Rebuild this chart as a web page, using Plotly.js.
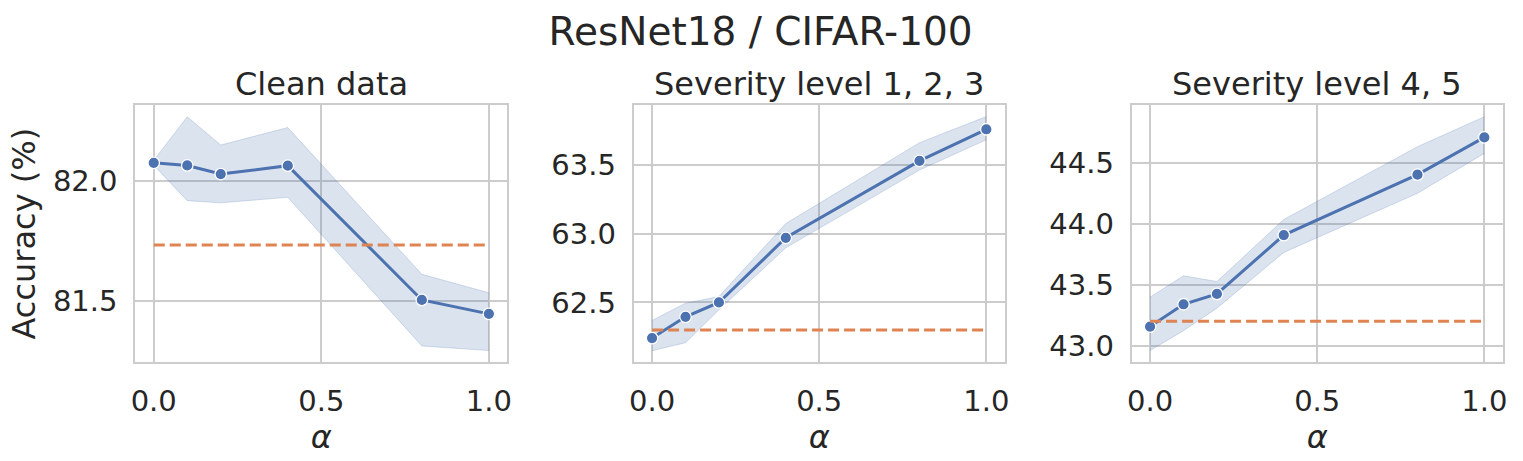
<!DOCTYPE html>
<html>
<head>
<meta charset="utf-8">
<script src="https://cdn.plot.ly/plotly-3.0.1.min.js"></script>
<style>html,body{margin:0;padding:0;background:#fff;}#chart{width:1523px;height:461px;}</style>
</head>
<body>
<div id="chart"></div>
<script>
// ---- data ----
const alphas = [0, 0.1, 0.2, 0.4, 0.8, 1.0];
const baselineX = [0, 1];

const panelTitles = ["Clean data", "Severity level 1, 2, 3", "Severity level 4, 5"];
const mainTitle = "ResNet18 / CIFAR-100";
const yLabel = "Accuracy (%)";
const xLabel = "<i>α</i>";

const cleanMean  = [82.075, 82.064, 82.028, 82.063, 81.503, 81.445];
const cleanUpper = [82.085, 82.267, 82.149, 82.222, 81.610, 81.533];
const cleanLower = [82.065, 81.917, 81.908, 81.931, 81.311, 81.292];
const cleanBaseline = 81.732;

const sev123Mean  = [62.242, 62.396, 62.500, 62.969, 63.527, 63.756];
const sev123Upper = [62.370, 62.495, 62.543, 63.072, 63.659, 63.848];
const sev123Lower = [62.150, 62.208, 62.447, 62.896, 63.460, 63.680];
const sev123Baseline = 62.300;

const sev45Mean  = [43.158, 43.341, 43.426, 43.907, 44.402, 44.707];
const sev45Upper = [43.399, 43.574, 43.527, 44.035, 44.631, 44.876];
const sev45Lower = [42.962, 43.125, 43.309, 43.765, 44.249, 44.576];
const sev45Baseline = 43.202;

const xTicks = [0, 0.5, 1.0];
const yRanges = [[81.243, 82.316], [62.066, 63.932], [42.866, 44.972]];

// ---- styling ----
const BLUE = "#4c72b0";
const ORANGE = "#dd8452";
const TXT = "#262626";
const GRID = "#cccccc";
const FONT = "DejaVu Sans, Liberation Sans, sans-serif";
const W = 1523, H = 461;

const panels = [
  {mean: cleanMean, up: cleanUpper, lo: cleanLower, base: cleanBaseline},
  {mean: sev123Mean, up: sev123Upper, lo: sev123Lower, base: sev123Baseline},
  {mean: sev45Mean, up: sev45Upper, lo: sev45Lower, base: sev45Baseline}
];

const xPix = [[135.3, 507.3], [633.7, 1004.7], [1131.7, 1502.7]];
const yTop = 105, yBot = 362.3;
const yDom = [(H - yBot) / H, (H - yTop) / H];

const traces = [];
const layout = {
  width: W, height: H,
  margin: {l: 0, r: 0, t: 0, b: 0},
  paper_bgcolor: "#ffffff",
  plot_bgcolor: "#ffffff",
  showlegend: false,
  font: {family: FONT, color: TXT, size: 29},
  title: {text: mainTitle, font: {family: FONT, size: 39, color: TXT},
          x: 0.4994, xanchor: "center", y: 1 - 31 / H, yanchor: "middle", xref: "paper", yref: "paper"},
  annotations: []
};

panels.forEach((p, i) => {
  const xa = "x" + (i === 0 ? "" : i + 1);
  const ya = "y" + (i === 0 ? "" : i + 1);
  traces.push({x: alphas, y: p.up, xaxis: xa, yaxis: ya, type: "scatter", mode: "lines",
    line: {color: "rgba(76,114,176,0.22)", width: 1}, hoverinfo: "skip"});
  traces.push({x: alphas, y: p.lo, xaxis: xa, yaxis: ya, type: "scatter", mode: "lines",
    fill: "tonexty", fillcolor: "rgba(76,114,176,0.2)",
    line: {color: "rgba(76,114,176,0.22)", width: 1}, hoverinfo: "skip"});
  traces.push({x: alphas, y: p.mean, xaxis: xa, yaxis: ya, type: "scatter", mode: "lines+markers",
    line: {color: BLUE, width: 3},
    marker: {color: BLUE, size: 11.5, line: {color: "#ffffff", width: 1.3}}});
  traces.push({x: baselineX, y: [p.base, p.base], xaxis: xa, yaxis: ya, type: "scatter", mode: "lines",
    line: {color: ORANGE, width: 3, dash: "11px,5px"}});

  const axKey = "xaxis" + (i === 0 ? "" : i + 1);
  const ayKey = "yaxis" + (i === 0 ? "" : i + 1);
  layout[axKey] = {
    domain: [xPix[i][0] / W, xPix[i][1] / W],
    anchor: ya,
    range: [-0.055, 1.055],
    tickvals: xTicks, tickformat: ".1f",
    ticks: "outside", ticklen: 12, tickcolor: "rgba(0,0,0,0)",
    showgrid: true, gridcolor: GRID, gridwidth: 2,
    zeroline: false,
    showline: true, linecolor: GRID, linewidth: 2, mirror: true,
    tickfont: {family: FONT, size: 29, color: TXT},
    title: {text: xLabel, font: {family: FONT, size: 32, color: TXT}, standoff: 4},
    automargin: false, fixedrange: true
  };
  layout[ayKey] = {
    domain: yDom,
    anchor: xa,
    range: yRanges[i],
    dtick: 0.5, tick0: 0, tickformat: ".1f",
    ticks: "outside", ticklen: 10, tickcolor: "rgba(0,0,0,0)",
    showgrid: true, gridcolor: GRID, gridwidth: 2,
    zeroline: false,
    showline: true, linecolor: GRID, linewidth: 2, mirror: true,
    tickfont: {family: FONT, size: 29, color: TXT},
    automargin: false, fixedrange: true
  };
  if (i === 0) {
    layout[ayKey].title = {text: yLabel, font: {family: FONT, size: 32, color: TXT}, standoff: 8};
  }
  layout.annotations.push({
    text: panelTitles[i], xref: "paper", yref: "paper",
    x: (xPix[i][0] + xPix[i][1]) / 2 / W, y: (H - 84) / H,
    xanchor: "center", yanchor: "middle", showarrow: false,
    font: {family: FONT, size: 32, color: TXT}
  });
});

Plotly.newPlot("chart", traces, layout, {staticPlot: true, displayModeBar: false});
</script>
</body>
</html>
